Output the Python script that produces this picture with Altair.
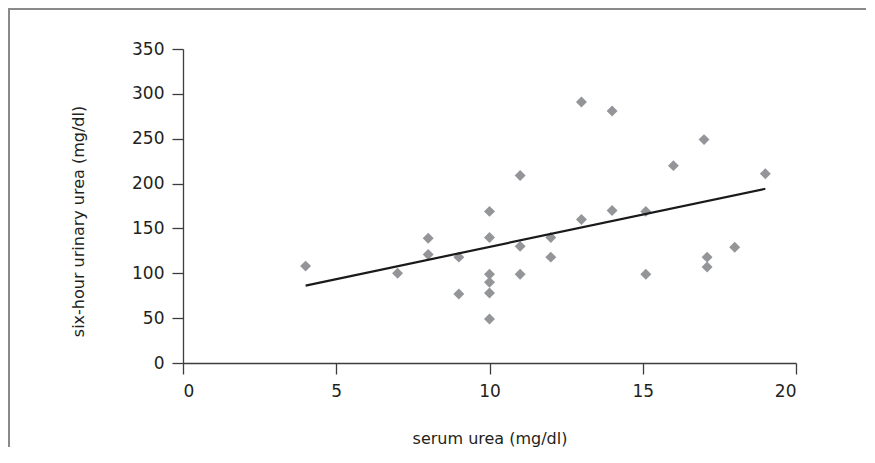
import altair as alt
import pandas as pd

serum_urea = [4, 7, 8, 8, 9, 9, 10, 10, 10, 10, 10, 10, 11, 11, 11, 12, 12,
              13, 13, 14, 14, 15.1, 15.1, 16, 17, 17.1, 17.1, 18, 19]
urinary_urea = [108, 100, 139, 121, 118, 77, 169, 140, 99, 90, 78, 49, 209, 130, 99, 140, 118,
                291, 160, 281, 170, 169, 99, 220, 249, 118, 107, 129, 211]

x_ticks = [0, 5, 10, 15, 20]
y_ticks = [0, 50, 100, 150, 200, 250, 300, 350]

df = pd.DataFrame({"serum": serum_urea, "urine": urinary_urea})

FONT = "DejaVu Sans"
W, H = 613, 314
PAD = {"left": 175, "top": 41, "right": 70, "bottom": 84}

xscale = alt.Scale(domain=[0, 20], nice=False, zero=False)
yscale = alt.Scale(domain=[0, 350], nice=False, zero=False)

xaxis = alt.Axis(values=x_ticks, title="serum urea (mg/dl)", grid=False,
                 tickSize=11, labelPadding=9, titlePadding=31)
yaxis = alt.Axis(values=y_ticks, title="six-hour urinary urea (mg/dl)", grid=False,
                 tickSize=11, labelPadding=8, titlePadding=45, titleY=172)

base = alt.Chart(df)

points = base.mark_point(shape="diamond", filled=True, size=120, color="#939598", opacity=1).encode(
    x=alt.X("serum:Q", scale=xscale, axis=xaxis),
    y=alt.Y("urine:Q", scale=yscale, axis=yaxis),
)

fit = base.transform_regression("serum", "urine", extent=[4, 19]).mark_line(
    color="#1a1a1a", strokeWidth=2.2
).encode(
    x=alt.X("serum:Q", scale=xscale),
    y=alt.Y("urine:Q", scale=yscale),
)

frame_data = alt.Data(values=[{"k": 1}])
frame_left = alt.Chart(frame_data).mark_rect(color="#8a8a8a", strokeWidth=0).encode(
    x=alt.value(-175), x2=alt.value(-173), y=alt.value(-41), y2=alt.value(H + PAD["bottom"])
)
frame_top = alt.Chart(frame_data).mark_rect(color="#8a8a8a", strokeWidth=0).encode(
    x=alt.value(-175), x2=alt.value(W + PAD["right"]), y=alt.value(-41), y2=alt.value(-39)
)

chart = alt.layer(frame_left, frame_top, points, fit).properties(
    width=W, height=H,
    autosize=alt.AutoSizeParams(type="none"),
    padding=PAD,
).configure_view(stroke=None).configure_axis(
    domainColor="#3d3d3d", tickColor="#3d3d3d", domainWidth=1.3, tickWidth=1.3,
    labelFont=FONT, labelFontSize=17, labelColor="#231f20",
    titleFont=FONT, titleFontSize=16, titleColor="#231f20", titleFontWeight="normal",
)

chart.save("out.html", embed_options={"renderer": "svg", "actions": False})
